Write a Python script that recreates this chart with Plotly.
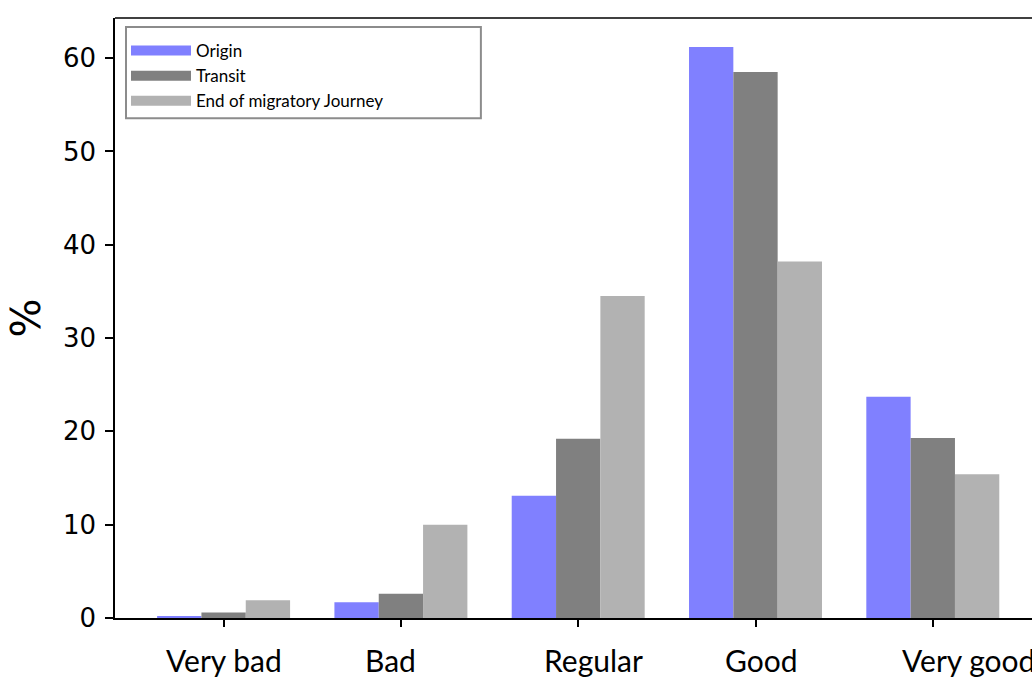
import plotly.graph_objects as go

categories = ["Very bad", "Bad", "Regular", "Good", "Very good"]
origin = [0.2, 1.7, 13.1, 61.2, 23.7]
transit = [0.6, 2.6, 19.2, 58.5, 19.3]
end_journey = [1.9, 10.0, 34.5, 38.2, 15.4]
series_names = ["Origin", "Transit", "End of migratory Journey"]
colors = ["#8080ff", "#808080", "#b2b2b2"]
y_ticks = [0, 10, 20, 30, 40, 50, 60]
# small horizontal nudges of the category labels, as in the original figure
label_shifts = [0, -10, 15, 6, 36]

fig = go.Figure()
for name, vals, col in zip(series_names, [origin, transit, end_journey], colors):
    fig.add_trace(go.Bar(x=categories, y=vals, name=name, showlegend=False,
                         marker=dict(color=col, line=dict(width=0))))
# legend entries with wide rectangular swatches
for name, col in zip(series_names, colors):
    fig.add_trace(go.Scatter(x=[None], y=[None], mode="lines", name=name,
                             line=dict(color=col, width=12), showlegend=True))

annotations = []
for cat, sh in zip(categories, label_shifts):
    annotations.append(dict(x=cat, y=0, xref="x", yref="paper", text=cat,
                            showarrow=False, xanchor="center", yanchor="top",
                            xshift=sh, yshift=-22,
                            font=dict(family="Lato, Open Sans, sans-serif", size=30, color="black")))

fig.update_layout(
    width=1032, height=677,
    margin=dict(l=115, r=0, t=18, b=59),
    plot_bgcolor="white", paper_bgcolor="white",
    barmode="group", bargap=0.25, bargroupgap=0,
    showlegend=True,
    legend=dict(x=0.012, y=0.975, xanchor="left", yanchor="top",
                bgcolor="rgba(0,0,0,0)", borderwidth=0,
                font=dict(family="Lato, Open Sans, sans-serif", size=17, color="black"),
                itemwidth=60, tracegroupgap=0),
    xaxis=dict(range=[-0.6125, 4.5595], showline=True, linecolor="black", linewidth=1.5,
               ticks="outside", ticklen=7, tickcolor="black", tickwidth=1.5,
               showticklabels=False, showgrid=False, zeroline=False),
    yaxis=dict(range=[0, 64.3], showline=True, linecolor="black", linewidth=1.5,
               ticks="outside", ticklen=8, tickcolor="black", tickwidth=1.5,
               tickvals=y_ticks, ticklabelstandoff=4,
               showgrid=False, zeroline=False,
               tickfont=dict(family="DejaVu Sans", size=26, color="black"),
               title=dict(text="%", font=dict(family="DejaVu Sans", size=41, color="black"),
                          standoff=10)),
    annotations=annotations,
    shapes=[
        dict(type="line", xref="paper", yref="paper", x0=0, x1=1, y0=1, y1=1,
             line=dict(color="black", width=1.5)),
        dict(type="rect", xref="paper", yref="paper", x0=0.012, x1=0.399, y0=0.833, y1=0.985,
             line=dict(color="#8c8c8c", width=2), fillcolor="white", layer="above"),
    ],
)

fig.write_html("out.html", config={"displayModeBar": False},
               post_script="document.body.style.margin='0';")
